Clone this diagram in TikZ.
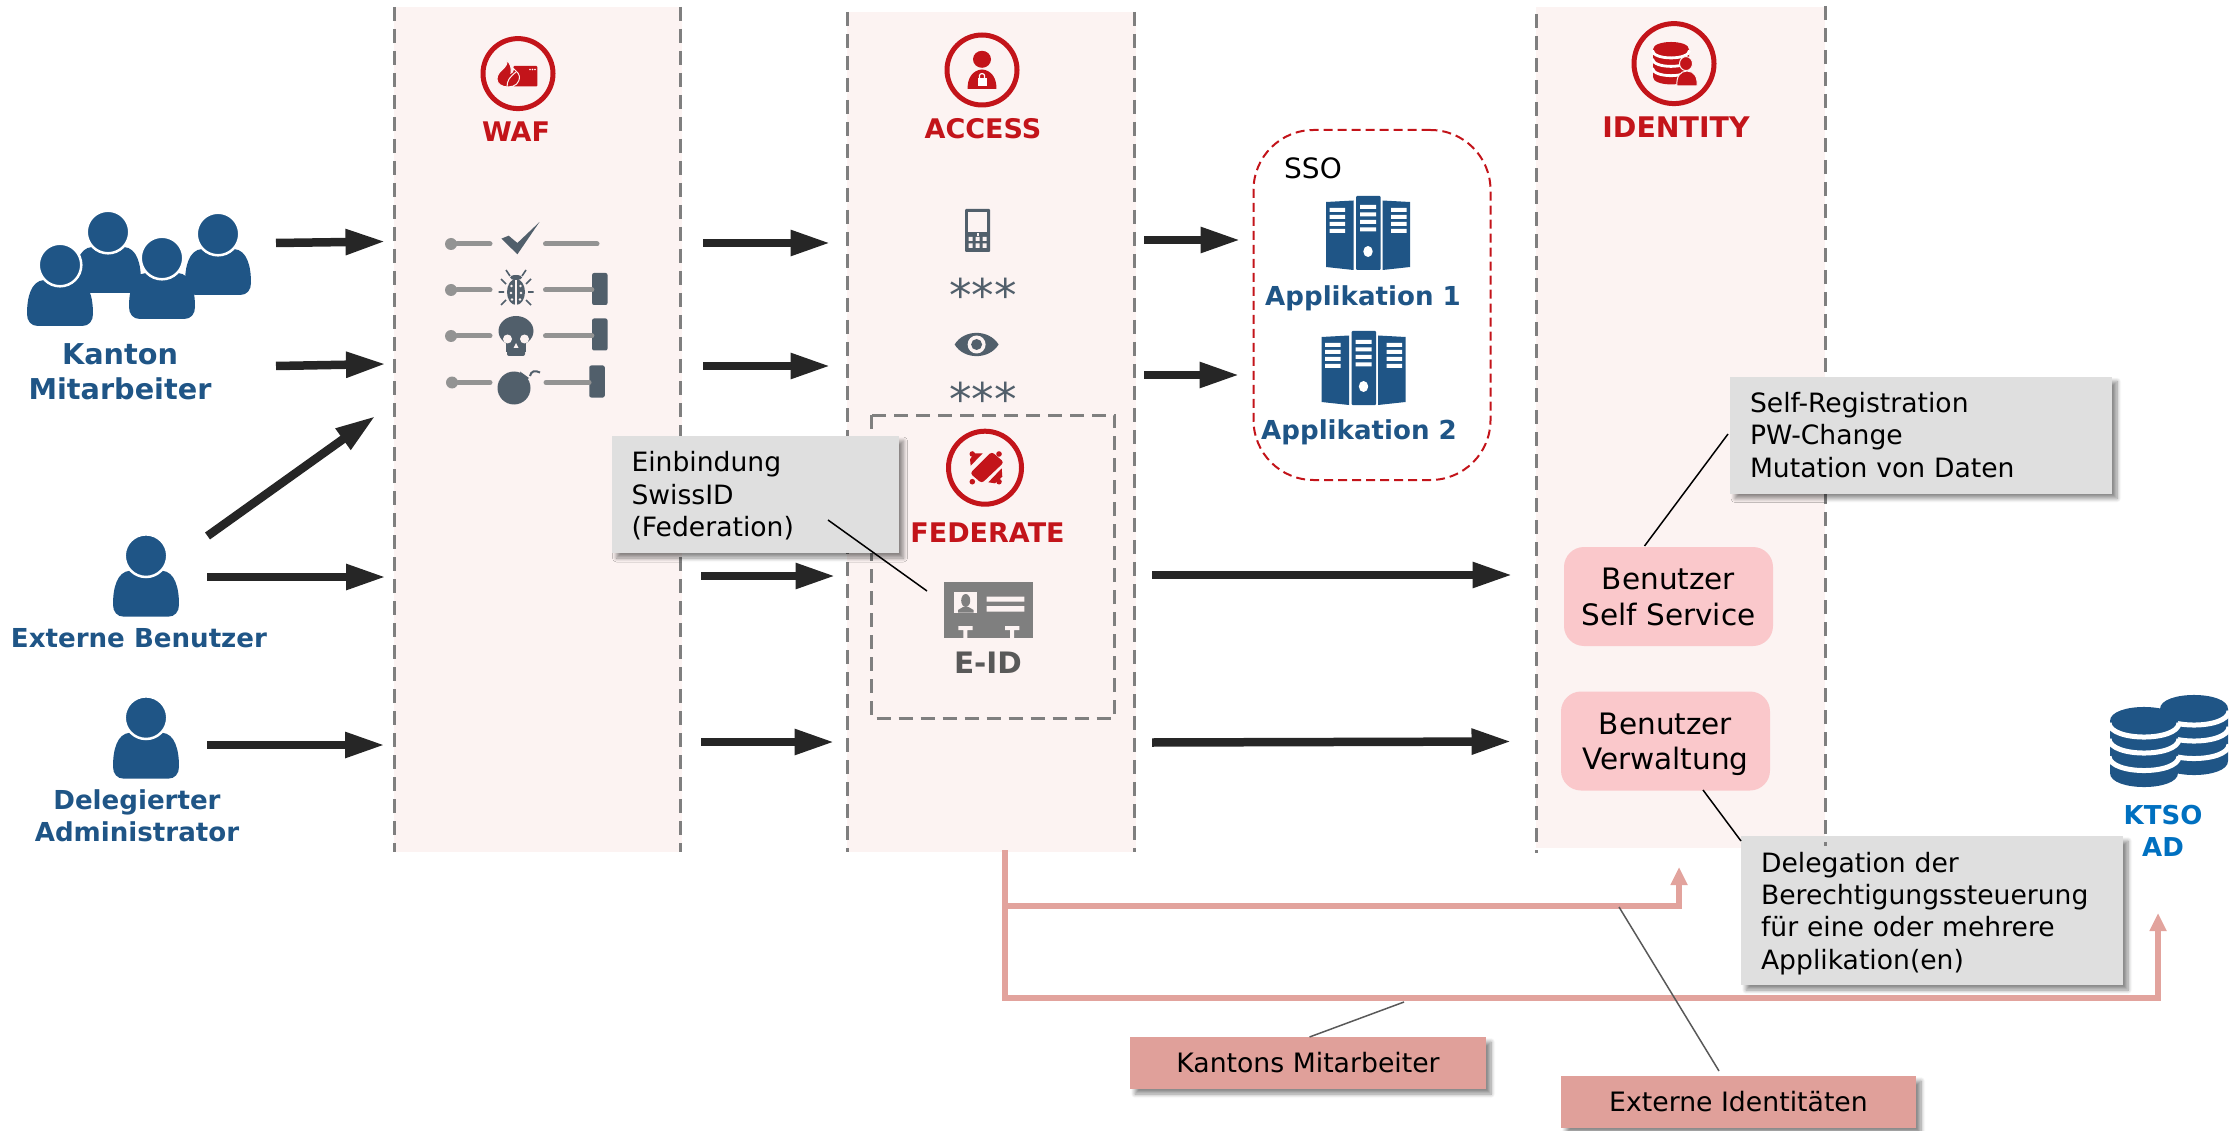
\documentclass[tikz,border=0pt]{standalone}
\usepackage{fontspec}
\setmainfont{DejaVu Sans}
\usetikzlibrary{arrows.meta,shadows,shadows.blur}

\definecolor{panelfill}{HTML}{FCF3F2}
\definecolor{dashgray}{HTML}{7F7F7F}
\definecolor{flowdark}{HTML}{262626}
\definecolor{tkred}{HTML}{C3141A}
\definecolor{userblue}{HTML}{1F5586}
\definecolor{icongray}{HTML}{515F6B}
\definecolor{pingray}{HTML}{939393}
\definecolor{calloutgray}{HTML}{DFDFDF}
\definecolor{servicepink}{HTML}{FAC8CB}
\definecolor{salmon}{HTML}{E0A09A}
\definecolor{feedpink}{HTML}{E2A39D}
\definecolor{adblue}{HTML}{0070C0}

\newcommand{\toppad}[1]{\rule{0pt}{#1pt}}

\tikzset{
  panel/.style 2 args={fill=panelfill,draw=none,minimum width=#1,minimum height=#2,inner sep=0},
  sideline/.style={draw=dashgray,line width=3pt,dash pattern=on 14pt off 8pt},
  ringicon/.style={circle,draw=tkred,line width=5pt,minimum size=#1,inner sep=0},
  flowarrow/.style={draw=flowdark,line width=8.5pt,-{Triangle[length=40pt,width=24pt]}},
  feedline/.style={draw=feedpink,line width=6pt,-{Triangle[length=18pt,width=16pt]}},
  leader/.style={draw=black,line width=1.5pt},
  softleader/.style={draw=black!65,line width=1.5pt},
  softshadow/.style={blur shadow={shadow xshift=5pt,shadow yshift=-5pt,shadow blur radius=4pt,shadow blur steps=8,shadow opacity=45}},
  callout/.style 2 args={fill=calloutgray,inner xsep=20pt,inner ysep=0,text width=#1,minimum height=#2,
    align=left,font=\fontsize{26.6}{32.3}\selectfont,softshadow},
  servicebox/.style={fill=servicepink,rounded corners=20pt,minimum width=209,minimum height=99,text depth=0pt,
    align=center,inner sep=0,font=\fontsize{29.5}{35.5}\selectfont},
  tagbox/.style={fill=salmon,minimum width=#1,minimum height=52,inner sep=0,
    font=\fontsize{26.7}{32}\selectfont,softshadow},
  redlabel/.style={text=tkred,inner sep=0,font=\fontsize{27}{32}\selectfont\bfseries},
  bluelabel/.style={text=userblue,inner sep=0,align=center,font=\fontsize{26.1}{31.7}\selectfont\bfseries},
  stars/.style={text=icongray,inner sep=0,font=\fontsize{45}{45}\selectfont},
  person/.pic={
    \fill[userblue] (-22,61) .. controls (-29,61) and (-33,56) .. (-33,49)
      .. controls (-33,32) and (-29,16) .. (-16,15) -- (16,15)
      .. controls (29,16) and (33,32) .. (33,49) .. controls (33,56) and (29,61) .. (22,61) -- cycle;
    \fill[userblue,draw=white,line width=2.5pt] (0,0) circle (21.3pt);
  },
  server/.pic={
    \fill[userblue,rounded corners=1pt] (-12,0) rectangle (12.5,74);
    \fill[userblue] (-42,6) -- (-14.5,4.5) -- (-14.5,74) -- (-42,71) -- cycle;
    \fill[userblue] (42,6) -- (14.5,4.5) -- (14.5,74) -- (42,71) -- cycle;
    \fill[white] (-8,9) rectangle (8,13) (-8,16.5) rectangle (8,20.5)
      (-8,24) rectangle (8,28) (-8,31.5) rectangle (8,35.5);
    \fill[white] (-38.5,12) rectangle (-23,16) (-38.5,19) rectangle (-23,23)
      (-38.5,26) rectangle (-23,30) (-38.5,33) rectangle (-23,37);
    \fill[white] (38.5,12) rectangle (23,16) (38.5,19) rectangle (23,23)
      (38.5,26) rectangle (23,30) (38.5,33) rectangle (23,37);
    \fill[white] (0,55.5) ellipse (4.7pt and 5.5pt);
  },
  dbstack/.pic={
    \path[pic actions] (-34,14) -- (-34,66) .. controls (-34,84.7) and (34,84.7) .. (34,66)
      -- (34,14) .. controls (34,-4.7) and (-34,-4.7) .. (-34,14) -- cycle;
    \draw[white] (-35,16) .. controls (-34,34.7) and (34,34.7) .. (35,16);
    \draw[white] (-35,32) .. controls (-34,50.7) and (34,50.7) .. (35,32);
    \draw[white] (-35,49.5) .. controls (-34,68.2) and (34,68.2) .. (35,49.5);
  }
}

\begin{document}
\begin{tikzpicture}[x=1pt,y=-1pt]
  \useasboundingbox (0,0) rectangle (2240,1131);

  % columns
  \node[panel={288}{845}] (wafpanel) at (538,429.5) {};
  \node[panel={289}{840}] (accesspanel) at (991.5,432) {};
  \node[panel={289}{841}] (identitypanel) at (1680.5,427.5) {};

  % this one lies under the dashes of the identity column
  \node[callout={342}{149}] (delegation) at (1932,910.5) {\toppad{26}Delegation der\\Berechtigungssteuerung\\für eine oder mehrere\\Applikation(en)};

  \coordinate (waftl) at (394,7);
  \coordinate (wafbl) at (394,852);
  \coordinate (waftr) at (680,7);
  \coordinate (wafbr) at (680,852);
  \coordinate (acctl) at (847,12);
  \coordinate (accbl) at (847,852);
  \coordinate (acctr) at (1134,12);
  \coordinate (accbr) at (1134,852);
  \coordinate (idtl) at (1536,14);
  \coordinate (idbl) at (1536,853);
  \coordinate (idtr) at (1825,6);
  \coordinate (idbr) at (1825,846);
  \draw[sideline] (waftl) -- (wafbl);
  \draw[sideline] (waftr) -- (wafbr);
  \draw[sideline] (acctl) -- (accbl);
  \draw[sideline] (acctr) -- (accbr);
  \draw[sideline] (idtl) -- (idbl);
  \draw[sideline] (idtr) -- (idbr);

  % federate frame and sso frame
  \draw[draw=dashgray,line width=3pt,dash pattern=on 14pt off 8pt] (871.5,415) rectangle (1114.5,718);
  \node[draw=tkred,line width=2pt,dash pattern=on 9pt off 5pt,rounded corners=60pt,
        minimum width=237,minimum height=350,inner sep=0] (ssoframe) at (1372,305) {};

  % people
  \pic (staff2) at (108,232) {person};
  \pic (staff4) at (218,234) {person};
  \pic (staff3) at (162,258) {person};
  \pic (staff1) at (60,265) {person};
  \pic (extuser) at (146,555.7) {person};
  \pic (deluser) at (146,717.7) {person};
  \node[bluelabel,font=\fontsize{28.7}{35}\selectfont\bfseries] (kanton) at (120,372) {Kanton\\Mitarbeiter};
  \node[bluelabel] (extlabel) at (139,638) {Externe Benutzer};
  \node[bluelabel] (dellabel) at (137,816) {Delegierter\\Administrator};

  % headers
  \node[ringicon=70] (wafring) at (518,73.6) {};
  \node[redlabel] (waf) at (516,131.5) {WAF};
  \node[ringicon=70] (accessring) at (982,70) {};
  \node[redlabel] (access) at (983,128.5) {ACCESS};
  \node[ringicon=80] (identityring) at (1674,63.6) {};
  \node[redlabel,font=\fontsize{28.4}{32}\selectfont\bfseries] (identity) at (1676,127) {IDENTITY};
  \node[ringicon=73] (federatering) at (985,467.7) {};
  \node[redlabel] (federate) at (987.5,532.5) {FEDERATE};

  % waf symbol
  \fill[tkred,rounded corners=1pt] (513.3,66) rectangle (537.3,86.5);
  \fill[white] (530,69.5) circle (.9pt) (532.5,69.5) circle (.9pt) (535,69.5) circle (.9pt);
  \fill[tkred,draw=panelfill,line width=1pt] (506.7,60) .. controls (509,68) and (497,70) .. (497,79)
    .. controls (497,84) and (502,87) .. (508,87) .. controls (515,87) and (520,83) .. (519.3,76)
    .. controls (518.5,72) and (515,71) .. (513.5,68.5) .. controls (513,72) and (512,73) .. (511,73)
    .. controls (512,68) and (510,63) .. (506.7,60) -- cycle;
  \draw[panelfill,line width=1pt] (507,87) .. controls (507,80) and (510,77) .. (516,72);

  % access symbol
  \fill[tkred] (982,59.3) ellipse (9pt and 8.5pt);
  \fill[tkred] (967.7,89) .. controls (967,78) and (973,70) .. (982,69.5)
    .. controls (991,70) and (997,78) .. (996.3,89) -- cycle;
  \fill[white] (977.5,78) rectangle (986.5,86);
  \draw[white,line width=1.2pt] (979.5,78) -- (979.5,75.5) .. controls (979.5,73) and (984.5,73) .. (984.5,75.5) -- (984.5,78);

  % identity symbol
  \pic[fill=tkred,line width=2.8pt,scale=.53] (identitydb) at (1671,42) {dbstack};
  \fill[tkred,draw=panelfill,line width=1pt] (1686,63.6) ellipse (6.5pt and 7pt);
  \fill[tkred,draw=panelfill,line width=1pt] (1677,86) .. controls (1676,77) and (1680,71) .. (1687,71)
    .. controls (1694,71) and (1698,77) .. (1697,86) -- cycle;

  % federate symbol
  \fill[tkred,rounded corners=3pt] (991.7,451.7) -- (1004,462.3) -- (981.7,483.3) -- (970,473.3) -- cycle;
  \fill[tkred] (972.3,454) circle (2.8pt) (999,454) circle (2.8pt) (972.3,481.7) circle (2.8pt) (999,481.7) circle (2.8pt);
  \fill[tkred] (974.3,453.3) -- (982.7,453.3) -- (970.7,465.7) -- (970,459.3) -- cycle;
  \fill[tkred] (1001.7,468.3) -- (1002.3,476.7) -- (995,483.3) -- (988.3,482.3) -- cycle;

  % waf rules
  \node[circle,fill=pingray,minimum size=12,inner sep=0] (pin1) at (451,244) {};
  \node[circle,fill=pingray,minimum size=12,inner sep=0] (pin2) at (451,290) {};
  \node[circle,fill=pingray,minimum size=12,inner sep=0] (pin3) at (451,336) {};
  \node[circle,fill=pingray,minimum size=12,inner sep=0] (pin4) at (452,382.5) {};
  \node[fill=icongray,rounded corners=2pt,minimum width=15.5,minimum height=32,inner sep=0] (bar2) at (599.8,289) {};
  \node[fill=icongray,rounded corners=2pt,minimum width=15.5,minimum height=32,inner sep=0] (bar3) at (599.8,334.5) {};
  \node[fill=icongray,rounded corners=2pt,minimum width=15.5,minimum height=32,inner sep=0] (bar4) at (597,381.5) {};
  \coordinate (pin1e) at (490,244);
  \coordinate (pin2e) at (490,290);
  \coordinate (pin3e) at (490,336);
  \coordinate (pin4e) at (490,382.5);
  \coordinate (rest1a) at (545.5,244);
  \coordinate (rest1b) at (597,244);
  \coordinate (rest2a) at (545.5,290);
  \coordinate (rest3a) at (545.5,336);
  \coordinate (rest4a) at (546,382.5);
  \begin{scope}[every path/.style={draw=pingray,line width=5pt,line cap=round}]
    \path (pin1) -- (pin1e);
    \path (pin2) -- (pin2e);
    \path (pin3) -- (pin3e);
    \path (pin4) -- (pin4e);
    \path (rest1a) -- (rest1b);
    \path (rest2a) -- (rest2a -| bar2.west);
    \path (rest3a) -- (rest3a -| bar3.west);
    \path (rest4a) -- (rest4a -| bar4.west);
  \end{scope}
  % check
  \fill[icongray] (501.4,238.6) -- (508.7,235.7) -- (517.4,243) -- (539.5,222) -- (517.4,254.3) -- cycle;
  % bug
  \fill[icongray] (516,292) ellipse (9pt and 13pt);
  \draw[panelfill,line width=1.2pt] (516,279) -- (516,305);
  \fill[panelfill] (511.5,286) circle (1.3pt) (520.5,286) circle (1.3pt) (511,293) circle (1.3pt)
    (521,293) circle (1.3pt) (512,299.5) circle (1.3pt) (520,299.5) circle (1.3pt);
  \fill[icongray] (516,277.5) ellipse (6pt and 2.5pt);
  \draw[icongray,line width=1.6pt] (510,276) -- (506,270) (522,276) -- (526,270)
    (506,284) -- (501,279) (526,284) -- (531,279) (504,292) -- (498.5,292) (528,292) -- (533.5,292)
    (506,300) -- (501,305) (526,300) -- (531,305);
  % skull
  \fill[icongray] (516,331) ellipse (17.5pt and 15pt);
  \fill[icongray] (506,338) rectangle (526,352);
  \fill[icongray,rounded corners=2pt] (507,345) rectangle (525,356);
  \fill[panelfill] (507.5,339) circle (4.5pt) (524.5,339) circle (4.5pt);
  \fill[panelfill] (516,343) -- (513.5,348) -- (518.5,348) -- cycle;
  % bomb
  \fill[icongray] (514,388) circle (16.5pt);
  \fill[icongray] (520,371.5) -- (529,378) -- (523,383) -- cycle;
  \draw[icongray,line width=2pt] (530,376) .. controls (531,371) and (535,370) .. (540,372.5);

  % access factors
  \fill[icongray,rounded corners=1pt] (965,209) rectangle (990,252);
  \fill[panelfill] (968,212) rectangle (987,232);
  \fill[panelfill] (976.5,233) rectangle (978.5,236);
  \fill[panelfill] (968.5,237) rectangle (972.5,241) (975.5,237) rectangle (979.5,241) (982.5,237) rectangle (986.5,241)
    (968.5,243.5) rectangle (972.5,248) (975.5,243.5) rectangle (979.5,248) (982.5,243.5) rectangle (986.5,248);
  \node[stars] (stars1) at (983,294.5) {***};
  \fill[icongray] (954.6,344.5) .. controls (964,329) and (989,329) .. (998.6,344.5)
    .. controls (989,360) and (964,360) .. (954.6,344.5) -- cycle;
  \fill[panelfill] (976.6,344.5) circle (9pt);
  \fill[icongray] (976.6,344.5) circle (5.5pt);
  \node[stars] (stars2) at (983,398.5) {***};

  % e-id card
  \node[fill=dashgray,minimum width=89,minimum height=56,inner sep=0] (eidcard) at (988.6,610.3) {};
  \fill[panelfill] (954,592) rectangle (977,612.7);
  \fill[dashgray] (965.7,600.5) ellipse (4.5pt and 6.5pt);
  \fill[dashgray] (958,612.7) -- (958,610) -- (963,607) -- (968.5,607) -- (973.5,610) -- (973.5,612.7) -- cycle;
  \fill[panelfill] (986.7,596.7) rectangle (1024.3,601.7) (986.7,606) rectangle (1024.3,611.7);
  \fill[panelfill] (958.3,626) rectangle (972.7,630) (963.3,630) rectangle (967.3,638.3)
    (1005,626) rectangle (1019.3,630) (1010,630) rectangle (1014,638.3);
  \node[inner sep=0,text=black!65,font=\fontsize{29.5}{32}\selectfont\bfseries] (eid) at (988,662.7) {E-ID};

  % applications
  \node[inner sep=0,font=\fontsize{28}{32}\selectfont,anchor=west] (sso) at (1284,168) {SSO};
  \pic (app1) at (1368,196) {server};
  \node[bluelabel] (app1label) at (1363,298) {Applikation 1};
  \pic (app2) at (1363.5,331) {server};
  \node[bluelabel] (app2label) at (1359,432) {Applikation 2};

  % identity boxes
  \node[servicebox] (selfservice) at (1668.5,596.5) {Benutzer\\Self Service};
  \node[servicebox] (verwaltung) at (1665.5,741) {Benutzer\\Verwaltung};

  % ktso
  \pic[fill=userblue,line width=5pt] (ktso2) at (2194,695) {dbstack};
  \pic[fill=userblue,line width=5pt] (ktso1) at (2144,707) {dbstack};
  \node[inner sep=0,align=center,text=adblue,font=\fontsize{26}{32}\selectfont\bfseries] (ktso) at (2163,831) {KTSO\\AD};

  % flows
  \coordinate (kan1) at (276,243);
  \coordinate (waf1) at (385.5,241.5);
  \coordinate (kan2) at (276,366);
  \coordinate (waf2) at (386,364);
  \coordinate (ext1) at (207.5,536);
  \coordinate (waf3) at (375.5,416);
  \coordinate (ext2) at (207,577);
  \coordinate (waf4) at (386,577);
  \coordinate (del1) at (207,745);
  \coordinate (waf5) at (385,745);
  \coordinate (out1) at (703,243);
  \coordinate (acc1) at (830.5,243);
  \coordinate (out2) at (703,366);
  \coordinate (acc2) at (830.5,366);
  \coordinate (out3) at (701,576);
  \coordinate (acc3) at (835.5,576);
  \coordinate (out4) at (701,742);
  \coordinate (acc4) at (834.5,742);
  \coordinate (sso1) at (1144,240);
  \coordinate (sso1e) at (1240.5,240);
  \coordinate (sso2) at (1144,375);
  \coordinate (sso2e) at (1239.5,375);
  \coordinate (idn1) at (1152,575);
  \coordinate (idn1e) at (1512.5,575);
  \coordinate (idn2) at (1152,742.5);
  \coordinate (idn2e) at (1511.5,741.5);
  \begin{scope}[every edge/.style={flowarrow}]
    \path (kan1) edge (waf1);
    \path (kan2) edge (waf2);
    \path (ext1) edge (waf3);
    \path (ext2) edge (waf4);
    \path (del1) edge (waf5);
    \path (out1) edge (acc1);
    \path (out2) edge (acc2);
    \path (out3) edge (acc3);
    \path (out4) edge (acc4);
    \path (sso1) edge (sso1e);
    \path (sso2) edge (sso2e);
    \path (idn1) edge (idn1e);
    \path (idn2) edge (idn2e);
  \end{scope}

  % feeds out of access
  \coordinate (feedtop) at (1005,850);
  \coordinate (bendid) at (1005,906);
  \coordinate (bendkt) at (1005,998);
  \coordinate (idup) at (1679,867);
  \coordinate (adup) at (2158,913);
  \draw[feedline] (feedtop) -- (bendid) -| (idup);
  \draw[feedline] (feedtop) -- (bendkt) -| (adup);

  % callouts
  \node[callout={247}{117}] (swissid) at (755,494.5) {\toppad{23}Einbindung\\SwissID\\(Federation)};
  \node[callout={342}{117}] (selfreg) at (1921,435) {Self-Registration\\PW-Change\\Mutation von Daten};
  \node[tagbox=356] (tagkanton) at (1308,1063) {Kantons Mitarbeiter};
  \node[tagbox=355] (tagextern) at (1738.5,1102) {Externe Identitäten};

  % leaders
  \coordinate (swissfrom) at (828,520);
  \coordinate (swissto) at (927,591);
  \coordinate (selffrom) at (1728,434);
  \coordinate (selfto) at (1644.5,546);
  \coordinate (verwfrom) at (1703,790);
  \coordinate (verwto) at (1741,841);
  \coordinate (kanfrom) at (1404,1002);
  \coordinate (kanto) at (1309.5,1037);
  \coordinate (extfrom) at (1619,907);
  \coordinate (extto) at (1719,1071);
  \draw[leader] (swissfrom) -- (swissto);
  \draw[leader] (selffrom) -- (selfto);
  \draw[leader] (verwfrom) -- (verwto);
  \draw[softleader] (kanfrom) -- (kanto);
  \draw[softleader] (extfrom) -- (extto);
\end{tikzpicture}
\end{document}
